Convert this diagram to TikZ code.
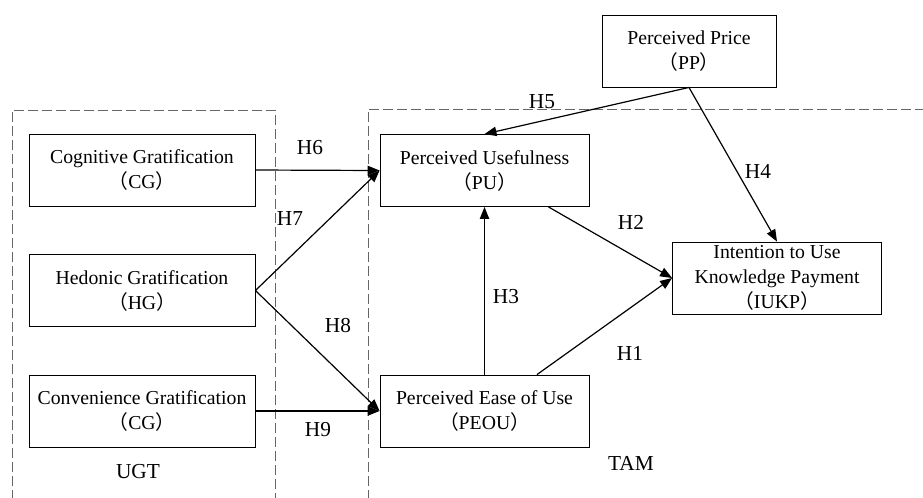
\documentclass[tikz,border=0pt]{standalone}
\usepackage{fontspec}
\setmainfont{Liberation Serif}
\newfontfamily\cjk{Noto Sans CJK SC}
\newcommand{\lp}{\makebox[0.85em][r]{\cjk（}}
\newcommand{\rp}{\makebox[0.85em][l]{\cjk）}}
\usetikzlibrary{arrows.meta,calc}
\begin{document}
\begin{tikzpicture}[x=0.75pt,y=-0.75pt,
  box/.style={draw,line width=0.65pt,rectangle,minimum width=156.75pt,minimum height=54pt,inner sep=0pt,align=center,font=\fontsize{14.8pt}{18.75pt}\selectfont},
  grp/.style={draw=black!60,line width=0.75pt,dash pattern=on 7.5pt off 3pt},
  hyp/.style={font=\fontsize{16pt}{19pt}\selectfont,inner sep=0pt},
  lbl/.style={font=\fontsize{16pt}{19pt}\selectfont,inner sep=0pt},
  arr/.style={line width=0.9pt,-{Triangle[length=9pt,width=7pt]}}]
\useasboundingbox (0,0) rectangle (923,497);
% groups
\draw[grp] (12,500) -- (12,110) -- (275,110) -- (275,500);
\draw[grp] (368,500) -- (368,109) -- (926,109);
% boxes
\node[box,minimum width=169.5pt] (CG) at (142,170) {Cognitive Gratification\\\lp CG\rp};
\node[box,minimum width=169.5pt] (HG) at (142,290.5) {Hedonic Gratification\\\lp HG\rp};
\node[box,minimum width=169.5pt] (CVG) at (142,411) {Convenience Gratification\\\lp CG\rp};
\node[box,minimum width=130.5pt] (PP) at (689,51) {Perceived Price\\\lp PP\rp};
\node[box] (PU) at (484.5,170.5) {Perceived Usefulness\\\lp PU\rp};
\node[box] (PEOU) at (484.5,411) {Perceived Ease of Use\\\lp PEOU\rp};
\node[box] (IUKP) at (777,278) {Intention to Use\\Knowledge Payment\\\lp IUKP\rp};
% group labels
\node[lbl] (ugt) at (138,472) {UGT};
\node[lbl] (tam) at (631,463) {TAM};
% coordinates
\coordinate (pu2) at ($(PU.south west)!0.805!(PU.south east)$);
\coordinate (pe1) at ($(PEOU.north west)!0.75!(PEOU.north east)$);
% arrows
\draw[arr] (CG.east) -- (PU.west);
\draw[arr] (HG.east) -- (PU.west);
\draw[arr] (HG.east) -- (PEOU.west);
\draw[arr] (CVG.east) -- (PEOU.west);
\draw[arr] (PP.south) -- (PU.north);
\draw[arr] (PP.south) -- (IUKP.north);
\draw[arr] (pu2) -- (IUKP.west);
\draw[arr] (pe1) -- (IUKP.west);
\draw[arr] (PEOU.north) -- (PU.south);
% hypothesis labels
\node[hyp] (h6) at (310,148) {H6};
\node[hyp] (h7) at (290,219) {H7};
\node[hyp] (h8) at (338,326) {H8};
\node[hyp] (h9) at (318,430) {H9};
\node[hyp] (h5) at (542,102) {H5};
\node[hyp] (h4) at (758,171) {H4};
\node[hyp] (h2) at (631,222) {H2};
\node[hyp] (h1) at (630,353) {H1};
\node[hyp] (h3) at (506,297) {H3};
\end{tikzpicture}
\end{document}
